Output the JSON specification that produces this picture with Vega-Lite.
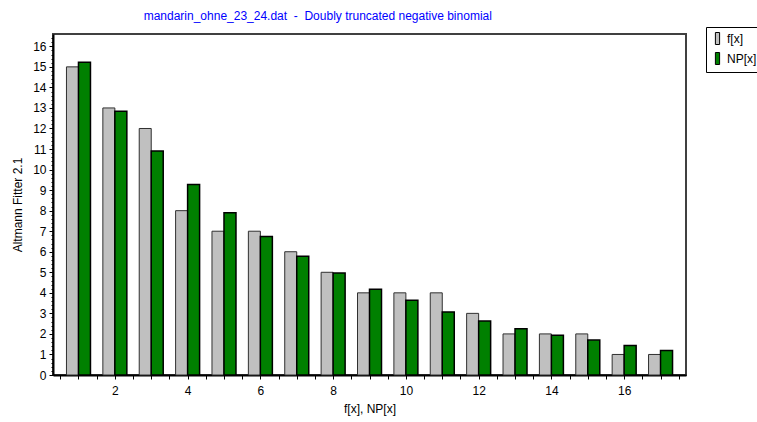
{
  "$schema": "https://vega.github.io/schema/vega-lite/v6.json",
  "autosize": {"type": "none"},
  "width": 633,
  "height": 341,
  "padding": {"left": 53, "top": 34, "right": 71, "bottom": 47},
  "background": "white",
  "title": {
    "text": "mandarin_ohne_23_24.dat \u00a0-\u00a0 Doubly truncated negative binomial",
    "anchor": "start",
    "dx": 132,
    "offset": 4,
    "font": "Liberation Sans",
    "fontSize": 12,
    "fontWeight": "normal",
    "color": "#0000FF"
  },
  "config": {
    "view": {"stroke": "#404040", "strokeWidth": 2},
    "axis": {
      "labelFont": "Liberation Sans",
      "labelFontSize": 12,
      "labelColor": "black",
      "titleFont": "Liberation Sans",
      "titleFontSize": 12,
      "titleFontWeight": "normal",
      "titleColor": "black",
      "domainColor": "black",
      "domainWidth": 2,
      "tickColor": "black",
      "grid": false
    },
    "legend": {
      "orient": "none",
      "legendX": 653,
      "legendY": -7,
      "fillColor": "white",
      "strokeColor": "black",
      "padding": 5,
      "labelFont": "Liberation Sans",
      "labelFontSize": 12,
      "labelColor": "black",
      "symbolType": "M-0.35,-1H0.35V1H-0.35Z",
      "symbolSize": 144,
      "symbolStrokeColor": "black",
      "symbolStrokeWidth": 1,
      "rowPadding": 3,
      "labelOffset": 3
    }
  },
  "data": {
    "values": [
      {"x": 1, "series": "f[x]", "value": 15},
      {"x": 2, "series": "f[x]", "value": 13},
      {"x": 3, "series": "f[x]", "value": 12},
      {"x": 4, "series": "f[x]", "value": 8},
      {"x": 5, "series": "f[x]", "value": 7},
      {"x": 6, "series": "f[x]", "value": 7},
      {"x": 7, "series": "f[x]", "value": 6},
      {"x": 8, "series": "f[x]", "value": 5},
      {"x": 9, "series": "f[x]", "value": 4},
      {"x": 10, "series": "f[x]", "value": 4},
      {"x": 11, "series": "f[x]", "value": 4},
      {"x": 12, "series": "f[x]", "value": 3},
      {"x": 13, "series": "f[x]", "value": 2},
      {"x": 14, "series": "f[x]", "value": 2},
      {"x": 15, "series": "f[x]", "value": 2},
      {"x": 16, "series": "f[x]", "value": 1},
      {"x": 17, "series": "f[x]", "value": 1},
      {"x": 1, "series": "NP[x]", "value": 15.22},
      {"x": 2, "series": "NP[x]", "value": 12.84},
      {"x": 3, "series": "NP[x]", "value": 10.9},
      {"x": 4, "series": "NP[x]", "value": 9.27},
      {"x": 5, "series": "NP[x]", "value": 7.9},
      {"x": 6, "series": "NP[x]", "value": 6.74},
      {"x": 7, "series": "NP[x]", "value": 5.78},
      {"x": 8, "series": "NP[x]", "value": 4.96},
      {"x": 9, "series": "NP[x]", "value": 4.18},
      {"x": 10, "series": "NP[x]", "value": 3.64},
      {"x": 11, "series": "NP[x]", "value": 3.07},
      {"x": 12, "series": "NP[x]", "value": 2.63},
      {"x": 13, "series": "NP[x]", "value": 2.25},
      {"x": 14, "series": "NP[x]", "value": 1.94},
      {"x": 15, "series": "NP[x]", "value": 1.7},
      {"x": 16, "series": "NP[x]", "value": 1.44},
      {"x": 17, "series": "NP[x]", "value": 1.19}
    ]
  },
  "encoding": {
    "x": {
      "field": "x",
      "type": "quantitative",
      "scale": {"domain": [0.3, 17.7], "nice": false, "zero": false, "padding": 0},
      "axis": {
        "title": "f[x], NP[x]",
        "values": [0.5,1,1.5,2,2.5,3,3.5,4,4.5,5,5.5,6,6.5,7,7.5,8,8.5,9,9.5,10,10.5,11,11.5,12,12.5,13,13.5,14,14.5,15,15.5,16,16.5,17,17.5],
        "labelExpr": "datum.value % 2 === 0 ? format(datum.value, 'd') : ''",
        "labelOverlap": false,
        "labelBound": false,
        "tickSize": 4,
        "labelPadding": 6,
        "titlePadding": 7
      }
    },
    "y": {
      "field": "value",
      "type": "quantitative",
      "scale": {"domain": [0, 16.6], "nice": false, "padding": 0},
      "axis": {
        "title": "Altmann Fitter 2.1",
        "values": [0,0.2,0.4,0.6,0.8,1,1.2,1.4,1.6,1.8,2,2.2,2.4,2.6,2.8,3,3.2,3.4,3.6,3.8,4,4.2,4.4,4.6,4.8,5,5.2,5.4,5.6,5.8,6,6.2,6.4,6.6,6.8,7,7.2,7.4,7.6,7.8,8,8.2,8.4,8.6,8.8,9,9.2,9.4,9.6,9.8,10,10.2,10.4,10.6,10.8,11,11.2,11.4,11.6,11.8,12,12.2,12.4,12.6,12.8,13,13.2,13.4,13.6,13.8,14,14.2,14.4,14.6,14.8,15,15.2,15.4,15.6,15.8,16,16.2,16.4],
        "labelExpr": "abs(datum.value - round(datum.value)) < 0.001 ? format(datum.value, 'd') : ''",
        "labelOverlap": false,
        "tickSize": {"condition": {"test": "abs(datum.value - round(datum.value)) < 0.001", "value": 4}, "value": 2},
        "labelPadding": 3,
        "titlePadding": 8
      }
    },
    "color": {
      "field": "series",
      "type": "nominal",
      "scale": {"domain": ["f[x]", "NP[x]"], "range": ["#C0C0C0", "#008000"]},
      "legend": {"title": null}
    }
  },
  "layer": [
    {
      "transform": [{"filter": "datum.series === 'f[x]'"}],
      "mark": {"type": "bar", "width": 12, "xOffset": -6, "stroke": "#303030", "strokeWidth": 1}
    },
    {
      "transform": [{"filter": "datum.series === 'NP[x]'"}],
      "mark": {"type": "bar", "width": 12, "xOffset": 6, "stroke": "black", "strokeWidth": 1.5}
    }
  ]
}
